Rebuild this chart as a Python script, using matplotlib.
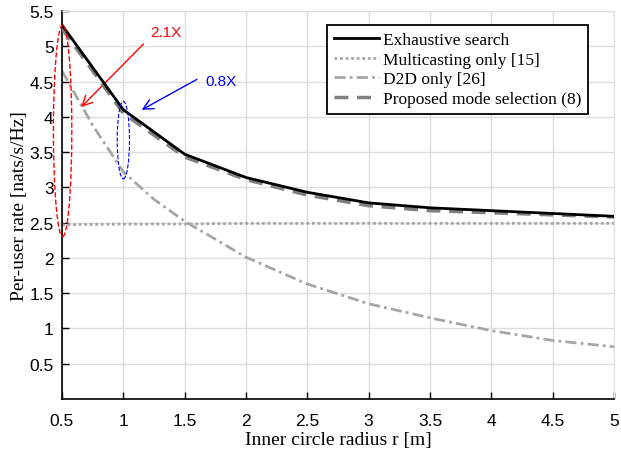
import matplotlib.pyplot as plt
from matplotlib.patches import Ellipse

radius = [0.5, 1.0, 1.5, 2.0, 2.5, 3.0, 3.5, 4.0, 4.5, 5.0]
exhaustive = [5.30, 4.10, 3.47, 3.14, 2.93, 2.78, 2.71, 2.67, 2.63, 2.59]
proposed = [5.25, 4.05, 3.43, 3.11, 2.89, 2.74, 2.67, 2.64, 2.61, 2.58]
multicast = [2.47, 2.48, 2.48, 2.49, 2.49, 2.49, 2.49, 2.49, 2.49, 2.49]
d2d_radius = [0.5, 0.75, 1.0, 1.25, 1.5, 2.0, 2.5, 3.0, 3.5, 4.0, 4.5, 5.0]
d2d = [4.65, 3.88, 3.22, 2.83, 2.52, 2.01, 1.63, 1.35, 1.15, 0.97, 0.83, 0.74]

x_ticks = [0.5, 1, 1.5, 2, 2.5, 3, 3.5, 4, 4.5, 5]
y_ticks = [0.5, 1, 1.5, 2, 2.5, 3, 3.5, 4, 4.5, 5, 5.5]

serif = "Liberation Serif"
plt.rcParams["font.family"] = "Liberation Sans"

figure, axis = plt.subplots(figsize=(6.21, 4.52), dpi=100)
figure.subplots_adjust(left=62 / 621, right=614 / 621, top=1 - 12 / 452, bottom=1 - 400 / 452)

axis.plot(radius, exhaustive, color="black", linewidth=2, label="Exhaustive search", zorder=5)
axis.plot(radius, multicast, color="0.65", linewidth=2, linestyle=(0, (1, 1)), label="Multicasting only [15]")
axis.plot(d2d_radius, d2d, color="0.65", linewidth=2, linestyle=(0, (4, 1.5, 1, 1.5)), label="D2D only [26]")
axis.plot(radius, proposed, color="0.5", linewidth=2.5, linestyle=(0, (4, 2.5)), label="Proposed mode selection (8)", zorder=4)

# annotations
axis.add_patch(Ellipse((0.505, 3.8), 0.15, 3.0, fill=False, edgecolor="red", linestyle="--",
                       linewidth=1, zorder=6, clip_on=False))
axis.add_patch(Ellipse((1.0, 3.67), 0.1, 1.1, fill=False, edgecolor="blue", linestyle="--",
                       linewidth=0.8, zorder=6, clip_on=False))
axis.annotate("", xy=(0.64, 4.11), xytext=(1.18, 5.06),
              arrowprops=dict(arrowstyle="->", color="red", lw=1, mutation_scale=18))
axis.text(1.22, 5.2, "2.1X", color="red", fontsize=11, ha="left", va="center")
axis.annotate("", xy=(1.13, 4.08), xytext=(1.62, 4.55),
              arrowprops=dict(arrowstyle="->", color="blue", lw=1, mutation_scale=18))
axis.text(1.67, 4.51, "0.8X", color="blue", fontsize=11, ha="left", va="center")

axis.set_xlim(0.5, 5)
axis.set_ylim(0, 5.5)
axis.set_xticks(x_ticks)
axis.set_xticklabels([f"{t:g}" for t in x_ticks])
axis.set_yticks(y_ticks)
axis.set_yticklabels([f"{t:g}" for t in y_ticks])
axis.tick_params(direction="in", length=5, width=1, labelsize=12.5, top=False, right=False, pad=6)
axis.tick_params(axis="x", pad=10)
axis.grid(color="0.87", linewidth=1)
axis.set_axisbelow(True)
for side in ["top", "right"]:
    axis.spines[side].set_color("0.87")
for side in ["left", "bottom"]:
    axis.spines[side].set_linewidth(1.2)

axis.set_xlabel("Inner circle radius r [m]", fontfamily=serif, fontsize=14, labelpad=2)
axis.set_ylabel("Per-user rate [nats/s/Hz]", fontfamily=serif, fontsize=14, labelpad=1)

legend = axis.legend(loc="upper right", bbox_to_anchor=(0.953, 0.964), borderaxespad=0,
                     prop={"family": serif, "size": 12.5},
                     fancybox=False, edgecolor="black", framealpha=1, handlelength=2.6,
                     handletextpad=0.2, labelspacing=0.2, borderpad=0.4)
legend.get_frame().set_linewidth(1.3)

figure.savefig("out.png", dpi=100)
plt.close(figure)
